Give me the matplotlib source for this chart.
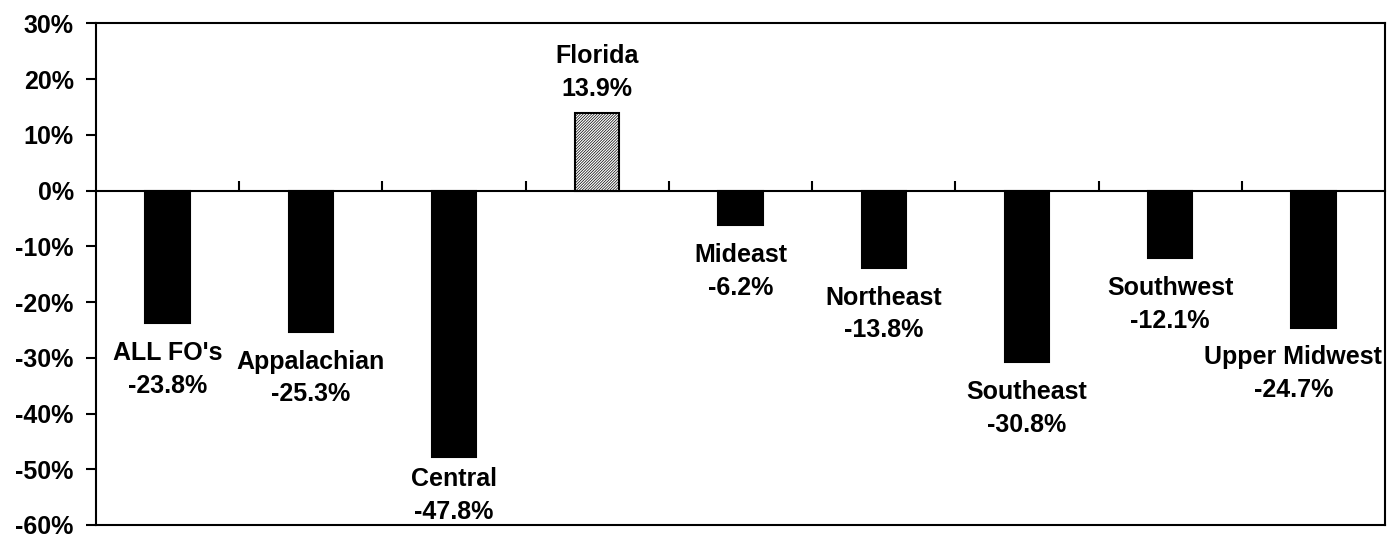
import numpy as np
import matplotlib.pyplot as plt
from matplotlib.ticker import FuncFormatter

regions = ["ALL FO's", "Appalachian", "Central", "Florida", "Mideast",
           "Northeast", "Southeast", "Southwest", "Upper Midwest"]
changes = [-23.8, -25.3, -47.8, 13.9, -6.2, -13.8, -30.8, -12.1, -24.7]

plt.rcParams['font.family'] = ['Liberation Sans', 'DejaVu Sans']
plt.rcParams['font.weight'] = 'bold'
plt.rcParams['hatch.linewidth'] = 0.5

FS = 18
YMIN, YMAX = -60, 30

fig = plt.figure(figsize=(13.87, 5.35), dpi=100)
ax = fig.add_axes([0.0692, 0.0187, 0.9294, 0.9374])

x = np.arange(len(regions))
colors = ['white' if v > 0 else 'black' for v in changes]
bars = ax.bar(x, changes, width=0.31, color=colors, edgecolor='black',
              linewidth=1.5, zorder=3)
for b, v in zip(bars, changes):
    if v > 0:
        b.set_hatch('////////////')

ax.set_xlim(-0.5, len(regions) - 0.5)
ax.set_ylim(YMIN, YMAX)
ax.set_yticks(np.arange(YMIN, YMAX + 1, 10))
ax.yaxis.set_major_formatter(FuncFormatter(lambda v, p: f"{v:.0f}%"))
ax.tick_params(axis='y', direction='out', length=7, width=1.5,
               labelsize=FS, pad=9)
for lbl in ax.get_yticklabels():
    lbl.set_fontweight('bold')
ax.set_xticks([])
for s in ax.spines.values():
    s.set_linewidth(1.5)

# category axis crossing at zero
sec = ax.secondary_xaxis(-YMIN / (YMAX - YMIN))
sec.set_xticks(np.arange(0.5, len(regions) - 1, 1.0))
sec.set_xticklabels([])
sec.tick_params(direction='out', length=7, width=1.5)
for s in sec.spines.values():
    s.set_linewidth(1.5)

for i, (name, v) in enumerate(zip(regions, changes)):
    txt = f"{name}\n{v:.1f}%"
    kw = dict(textcoords='offset points', fontsize=FS, fontweight='bold',
              linespacing=1.45, multialignment='center')
    if v > 0:
        ax.annotate(txt, (i, v), xytext=(0, 9), ha='center', va='bottom', **kw)
    elif i == len(regions) - 1:
        ax.annotate(txt, (len(regions) - 0.5, v), xytext=(-2, -12),
                    ha='right', va='top', **kw)
    elif v - 15 < YMIN:
        # label pushed up so it stays inside the plot area
        ax.annotate(txt, (i, YMIN), xytext=(0, 1), ha='center', va='bottom',
                    **kw)
    else:
        ax.annotate(txt, (i, v), xytext=(0, -13), ha='center', va='top', **kw)

fig.savefig('out.png', dpi=100)
